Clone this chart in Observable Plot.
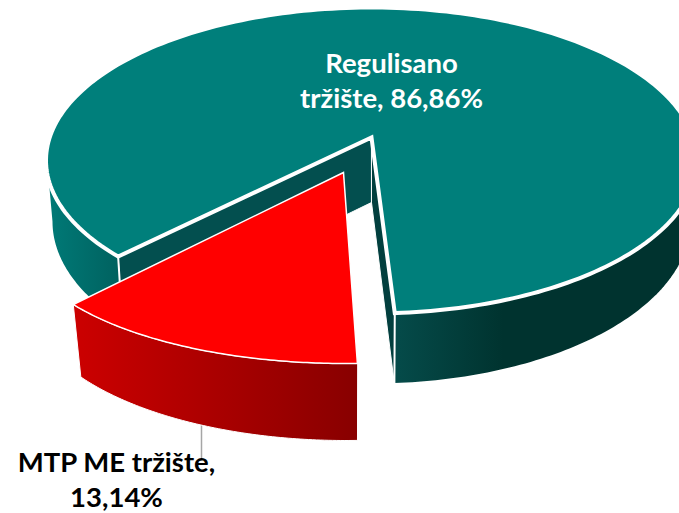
<!DOCTYPE html>
<html>
<head>
<meta charset="utf-8">
<script src="https://cdn.jsdelivr.net/npm/d3@7"></script>
<script src="https://cdn.jsdelivr.net/npm/@observablehq/plot@0.6"></script>
<style>
html,body{margin:0;padding:0;background:#fff;overflow:hidden}
svg{display:block;overflow:hidden}
</style>
</head>
<body>
<div id="chart"></div>
<script>
// Data
const categories = ["Regulisano tržište", "MTP ME tržište"];
const shares = [86.86, 13.14];
const labelPrefix = ["Regulisano\ntržište, ", "MTP ME tržište,\n"];

// Scene layout of the 3D pie (perspective view: each slice has its own ellipses)
const W = 679, H = 513;
const fmt = v => v.toFixed(2).replace(".", ",") + "%";
const main = {
  top: {cx: 371, cy: 160, rx: 325.5, ry: 153},
  low: {cx: 371, cy: 221, rx: 320, ry: 163},
  apex: [371, 137], lowApex: [371, 202],
  start: 85.9, dir: -1, stretch: 0.9747
};
const red = {
  top: {cx: 345, cy: 233, rx: 325, ry: 130},
  low: {cx: 345, cy: 300, rx: 316, ry: 140},
  apex: [343, 172],
  start: 87.9, dir: 1, stretch: 1.247
};
const rad = Math.PI / 180;
const at = (e, a) => [e.cx + e.rx * Math.cos(a * rad), e.cy + e.ry * Math.sin(a * rad)];
const arc = (e, a0, a1, n = 80) => d3.range(n + 1).map(i => at(e, a0 + (a1 - a0) * i / n));
const sweep = (s, share) => s.start + s.dir * share * 3.6 * s.stretch;

const mainEnd = sweep(main, shares[0]);           // long way round
const mainEndWrapped = mainEnd + 360;
const redEnd = sweep(red, shares[1]);

// polygons derived from the shares
const mainFace = [main.apex, ...arc(main.top, main.start, mainEnd, 240)];
const mainWallRight = [...arc(main.top, main.start, 0), ...arc(main.low, 0, main.start)];
const mainWallLeft = [...arc(main.top, mainEndWrapped, 180), ...arc(main.low, 180, mainEndWrapped)];
const cutLeft = [main.apex, at(main.top, mainEndWrapped), at(main.low, mainEndWrapped), main.lowApex];
const cutRight = [main.apex, at(main.top, main.start), at(main.low, main.start), main.lowApex];
const redFace = [red.apex, ...arc(red.top, red.start, redEnd)];
const redWall = [...arc(red.top, red.start, redEnd), ...arc(red.low, redEnd, red.start)];

const poly = (pts, fill, stroke, strokeWidth) => Plot.line(pts, {
  x: d => d[0], y: d => d[1], curve: "linear-closed",
  fill, stroke, strokeWidth, strokeLinejoin: "miter", strokeMiterlimit: 3
});

function gradient(defs, id, x1, x2, stops) {
  const g = defs.append("linearGradient").attr("id", id)
    .attr("gradientUnits", "userSpaceOnUse")
    .attr("x1", x1).attr("x2", x2).attr("y1", 0).attr("y2", 0);
  stops.forEach(([o, c]) => g.append("stop").attr("offset", o).attr("stop-color", c));
}
const defsMark = () => {
  const defs = d3.create("svg:defs");
  gradient(defs, "wallRight", 395, 679, [[0, "#054b4a"], [0.38, "#00332f"], [1, "#00332f"]]);
  gradient(defs, "wallLeft", 47, 120, [[0, "#007a77"], [1, "#00615f"]]);
  gradient(defs, "wallRed", 73, 357, [[0, "#cc0000"], [1, "#880000"]]);
  return defs.node();
};

const font = "Lato, Carlito, 'Open Sans', sans-serif";
const chart = Plot.plot({
  width: W, height: H, margin: 0,
  x: {domain: [0, W], range: [0, W], axis: null},
  y: {domain: [0, H], range: [0, H], axis: null},
  style: {background: "#fff"},
  marks: [
    defsMark,
    Plot.ruleX([201], {y1: 420, y2: 458, stroke: "#a6a6a6", strokeWidth: 1.5}),
    poly(cutLeft, "#034f4f", "#fff", 1),
    poly(cutRight, "#023f3e", "#fff", 1),
    poly(mainWallRight, "url(#wallRight)", "#fff", 2),
    poly(mainWallLeft, "url(#wallLeft)", "#fff", 2),
    poly(mainFace, "#007f7b", "#fff", 4),
    poly(redWall, "url(#wallRed)", "#fff", 1),
    poly(redFace, "#ff0000", "#fff", 1.5),
    Plot.text([0], {
      x: 391, y: 79, text: () => labelPrefix[0] + fmt(shares[0]),
      fill: "#fff", fontSize: 27.5, fontWeight: 700, fontFamily: font, lineHeight: 1.27, textAnchor: "middle"
    }),
    Plot.text([1], {
      x: 116, y: 478, text: () => labelPrefix[1] + fmt(shares[1]),
      fill: "#000", fontSize: 27.5, fontWeight: 700, fontFamily: font, lineHeight: 1.27, textAnchor: "middle"
    })
  ]
});
document.getElementById("chart").append(chart);
</script>
</body>
</html>
